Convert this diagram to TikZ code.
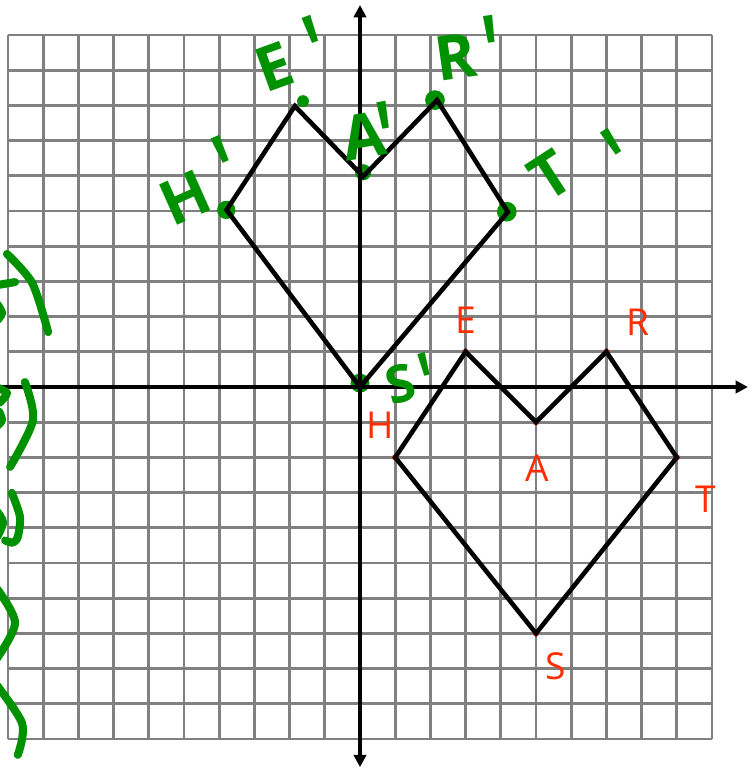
\documentclass[tikz,border=0pt]{standalone}
\usepackage{fontspec}
\setsansfont{Open Sans}
\usetikzlibrary{arrows.meta}
\definecolor{ptred}{RGB}{255,45,0}
\definecolor{ptgreen}{RGB}{0,145,0}
\newcommand{\primemark}[2]{\hspace{#1}\raisebox{#2}[0pt][0pt]{\scalebox{1.1}[1.7]{\textquotesingle}}}

\begin{document}
\begin{tikzpicture}[x=1cm,y=1cm,gridline/.style={draw=black!50,line width=2.3pt},axis/.style={line width=3pt,{Triangle[length=10pt,width=10pt]}-{Triangle[length=10pt,width=10pt]}},outline/.style={line width=3.7pt,line join=miter},vdot/.style={fill=ptred},imgdot/.style={fill=ptgreen},ptlabel/.style={text=ptred,font=\sffamily\fontsize{30}{30}\selectfont,inner sep=0pt},imglabel/.style={text=ptgreen,font=\sffamily\bfseries\fontsize{50}{50}\selectfont,inner sep=0pt},ink/.style={draw=ptgreen,line width=6.5pt,line cap=round,line join=round}]
\useasboundingbox (-10.227,-10.824) rectangle (11.108,10.994);
\draw[gridline] (-10,-10) grid (10,10);
\coordinate (xl) at (-10.7,0);\coordinate (xr) at (11.02,0);\coordinate (yb) at (0,-10.8);\coordinate (yt) at (0,10.85);
\coordinate (H) at (1,-2);\coordinate (E) at (3,1);\coordinate (A) at (5,-1);\coordinate (R) at (7,1);\coordinate (T) at (9,-2);\coordinate (S) at (5,-7);
\coordinate (Hp) at (-3.79,5.03);\coordinate (Ep) at (-1.85,7.98);\coordinate (Ap) at (0.09,5.98);\coordinate (Rp) at (2.19,8.15);\coordinate (Tp) at (4.2,4.97);\coordinate (Sp) at (0,0);
\fill[imgdot] (-3.8,5.03) circle (0.26);\fill[imgdot] (-1.62,8.12) circle (0.17);\fill[imgdot] (0.09,6.1) circle (0.23);\fill[imgdot] (2.13,8.15) circle (0.28);\fill[imgdot] (4.17,4.98) circle (0.28);\fill[imgdot] (0,0.11) circle (0.27);
\draw[axis] (xl) -- (xr);\draw[axis] (yb) -- (yt);
\fill[vdot] (H) circle (0.09);\fill[vdot] (E) circle (0.09);\fill[vdot] (A) circle (0.09);\fill[vdot] (R) circle (0.09);\fill[vdot] (T) circle (0.09);\fill[vdot] (S) circle (0.09);
\draw[outline] (H) -- (E) -- (A) -- (R) -- (T) -- (S) -- cycle;
\draw[outline] (Hp) -- (Ep) -- (Ap) -- (Rp) -- (Tp) -- (Sp) -- cycle;
\node[ptlabel] (Hlab) at (0.57,-1.08) {H};\node[ptlabel] (Elab) at (3.01,1.9) {E};\node[ptlabel] (Alab) at (5.03,-2.3) {A};\node[ptlabel] (Rlab) at (7.9,1.85) {R};\node[ptlabel] (Tlab) at (9.83,-3.2) {T};\node[ptlabel] (Slab) at (5.57,-7.93) {S};
\node[imglabel,rotate=24] (Hplab) at (-4.48,5.59) {H\primemark{0.31em}{-0.16em}};
\node[imglabel,rotate=20] (Eplab) at (-1.91,9.28) {E\primemark{0.34em}{-0.28em}};
\node[imglabel,rotate=10] (Aplab) at (0.25,7.16) {A\primemark{-0.12em}{-0.37em}};
\node[imglabel,rotate=8] (Rplab) at (3.08,9.43) {R\primemark{0.14em}{-0.27em}};
\node[imglabel,rotate=33] (Tplab) at (6.12,6.49) {T\primemark{0.68em}{-0.73em}};
\node[imglabel,font=\sffamily\bfseries\fontsize{42}{42}\selectfont,rotate=15] (Splab) at (1.45,0.17) {S\primemark{0.11em}{-0.39em}};
\draw[ink] plot[smooth] coordinates {(-10.03,3.78) (-9.31,2.95) (-8.86,1.56)};
\draw[ink] (-10.4,2.88) -- (-9.8,2.98);
\draw[ink] plot[smooth] coordinates {(-10.3,2.35) (-10.17,2.1) (-10.3,1.9)};
\draw[ink] plot[smooth] coordinates {(-9.52,0.14) (-9.29,-0.94) (-9.94,-2.27)};
\draw[ink] plot[smooth] coordinates {(-10.4,0.02) (-10.03,-0.17) (-10.25,-0.45)};
\draw[ink] plot[smooth] coordinates {(-10.25,-0.7) (-10.17,-0.94) (-10.3,-1.1)};
\draw[ink] plot[smooth] coordinates {(-9.89,-3.01) (-9.66,-3.69) (-9.72,-4.25) (-9.86,-4.42) (-10.08,-4.36)};
\draw[ink] plot[smooth] coordinates {(-10.3,-3.55) (-10.14,-3.85) (-10.3,-4.25)};
\draw[ink] plot[smooth] coordinates {(-10.45,-5.55) (-9.8,-6.7) (-10.45,-7.9)};
\draw[ink] plot[smooth] coordinates {(-10.45,-8.3) (-9.6,-9.55) (-9.72,-10.45)};
\end{tikzpicture}
\end{document}
